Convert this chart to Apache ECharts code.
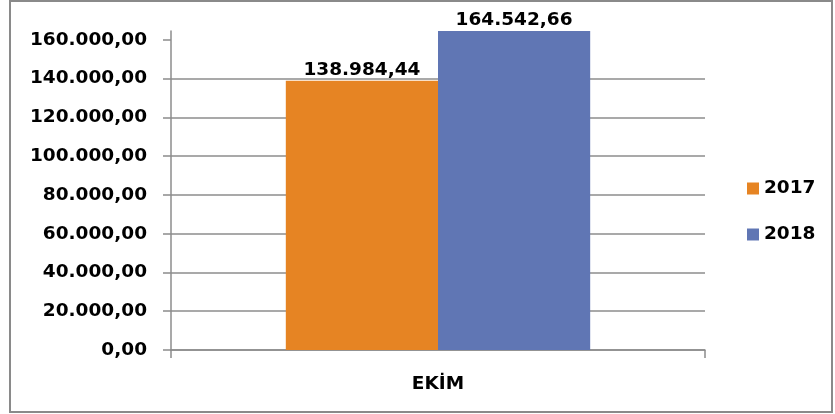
<!DOCTYPE html>
<html style="height: 100%">
<head>
    <meta charset="UTF-8" />
    <script type="text/javascript" src="https://cdn.jsdelivr.net/npm/echarts@6/dist/echarts.min.js"></script>
</head>
<body style="height: 100%; margin: 0; background: #fff">
    <div id="container" style="width: 835px; height: 414px"></div>
    <script>
        var categories = ['EKİM'];
        var seriesNames = ['2017', '2018'];
        var values2017 = [138984.44];
        var values2018 = [164542.66];
        var yTicks = [0, 20000, 40000, 60000, 80000, 100000, 120000, 140000, 160000];

        var colors = ['#E68423', '#6076B4'];
        var font = 'DejaVu Sans';

        function trNumber(v) {
            var parts = v.toFixed(2).split('.');
            var intPart = parts[0].replace(/\B(?=(\d{3})+(?!\d))/g, '.');
            return intPart + ',' + parts[1];
        }

        var chart = echarts.init(document.getElementById('container'));

        var labelStyle = {
            show: true,
            position: 'top',
            distance: 1,
            color: '#000',
            fontFamily: font,
            fontWeight: 'bold',
            fontSize: 18.5,
            formatter: function (p) { return trNumber(p.value); }
        };

        chart.setOption({
            animation: false,
            color: colors,
            graphic: [{
                type: 'rect',
                shape: { x: 10, y: 1, width: 822, height: 411 },
                style: { fill: 'none', stroke: '#8a8a8a', lineWidth: 2 },
                silent: true
            }],
            grid: { left: 171, right: 130, top: 31, bottom: 64 },
            legend: {
                orient: 'vertical',
                left: 742,
                top: 174,
                itemWidth: 12,
                itemHeight: 12,
                itemGap: 27,
                icon: 'rect',
                textStyle: { fontFamily: font, fontWeight: 'bold', fontSize: 18.5, color: '#000' },
                data: seriesNames
            },
            xAxis: {
                type: 'category',
                data: categories,
                axisLine: { lineStyle: { color: '#8c8c8c', width: 1.5 } },
                axisTick: { show: true, length: 8, lineStyle: { color: '#8c8c8c', width: 1.5 } },
                axisLabel: { margin: 25, color: '#000', fontFamily: font, fontWeight: 'bold', fontSize: 18.5 }
            },
            yAxis: {
                type: 'value',
                min: 0,
                max: 164600,
                interval: 20000,
                axisLine: { show: true, lineStyle: { color: '#8c8c8c', width: 1.5 } },
                axisTick: { show: true, length: 8, customValues: yTicks, lineStyle: { color: '#8c8c8c', width: 1.5 } },
                axisLabel: {
                    customValues: yTicks,
                    margin: 24,
                    color: '#000',
                    fontFamily: font,
                    fontWeight: 'bold',
                    fontSize: 18.5,
                    formatter: function (v) { return trNumber(v); }
                },
                splitLine: { show: true, showMaxLine: false, lineStyle: { color: '#8c8c8c', width: 1.5 } }
            },
            series: [{
                name: seriesNames[0],
                type: 'bar',
                data: values2017,
                barGap: '0%',
                barCategoryGap: '43%',
                label: labelStyle
            }, {
                name: seriesNames[1],
                type: 'bar',
                data: values2018,
                label: labelStyle
            }]
        });
    </script>
</body>
</html>
